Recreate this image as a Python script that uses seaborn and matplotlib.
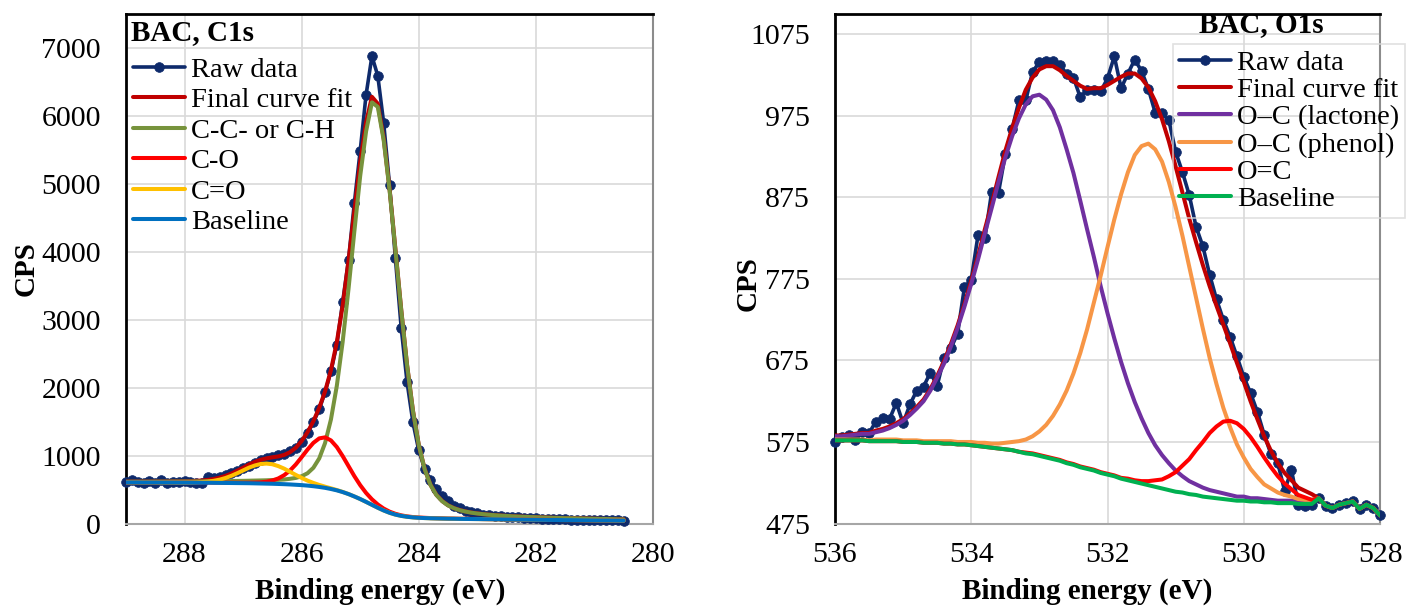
import numpy as np
import matplotlib
matplotlib.use("Agg")
import matplotlib.pyplot as plt
from matplotlib.ticker import MultipleLocator, FixedLocator
import seaborn as sns

# ---------------- C1s data (binding energy 289.0 -> 280.5 eV, 0.1 eV step) ----------------
energy_c1s = np.round(np.linspace(289.0, 280.5, 86), 1)

raw_c1s = [612, 638, 612, 595, 630, 602, 633, 596, 610, 614,
           625, 608, 598, 600, 688, 665, 690, 712, 745, 768,
           812, 848, 890, 935, 960, 985, 1005, 1030, 1060, 1110,
           1200, 1330, 1490, 1680, 1935, 2240, 2630, 3260, 3880, 4720,
           5490, 6310, 6880, 6590, 5900, 4990, 3910, 2880, 2080, 1490,
           1075, 805, 640, 505, 410, 330, 262, 222, 188, 165,
           148, 128, 118, 108, 104, 97, 92, 90, 85, 80,
           76, 72, 70, 66, 64, 60, 58, 56, 58, 52,
           50, 52, 48, 46, 47, 44]

fit_c1s = [616, 617, 617, 617, 617, 618, 618, 618, 620, 620,
           622, 623, 628, 633, 642, 656, 675, 701, 735, 777,
           821, 867, 907, 938, 959, 975, 987, 1009, 1049, 1115,
           1214, 1343, 1506, 1703, 1945, 2257, 2668, 3205, 3866, 4601,
           5324, 5904, 6281, 6180, 5674, 4935, 4047, 3150, 2335, 1665,
           1158, 804, 570, 423, 331, 268, 227, 198, 177, 161,
           149, 138, 130, 123, 117, 112, 107, 103, 99, 96,
           93, 90, 87, 84, 82, 79, 78, 76, 74, 72,
           70, 68, 67, 65, 63, 61]

cc_c1s = [615, 616, 616, 616, 616, 617, 617, 617, 618, 618,
          619, 619, 620, 620, 622, 623, 623, 624, 625, 627,
          628, 630, 632, 634, 636, 640, 643, 648, 658, 671,
          696, 740, 820, 958, 1185, 1532, 2025, 2673, 3453, 4302,
          5120, 5772, 6200, 6132, 5646, 4918, 4035, 3142, 2329, 1660,
          1154, 800, 567, 420, 328, 266, 225, 196, 175, 159,
          147, 137, 129, 122, 116, 111, 106, 102, 98, 95,
          92, 89, 86, 83, 81, 78, 77, 75, 73, 71,
          69, 67, 66, 64, 62, 60]

co_c1s = [606, 606, 606, 605, 605, 605, 604, 604, 605, 604,
          604, 603, 604, 603, 603, 602, 602, 601, 600, 600,
          600, 601, 603, 606, 615, 633, 663, 711, 779, 869,
          977, 1088, 1187, 1253, 1268, 1223, 1126, 993, 845, 697,
          564, 450, 356, 280, 220, 175, 143, 120, 105, 95,
          88, 84, 80, 78, 76, 73, 72, 70, 69, 68,
          67, 65, 64, 63, 62, 61, 60, 59, 58, 57,
          56, 55, 54, 53, 52, 51, 51, 50, 49, 48,
          47, 46, 46, 45, 44, 43]

ceo_c1s = [605, 605, 605, 604, 604, 604, 603, 603, 603, 602,
           603, 603, 606, 610, 617, 629, 646, 670, 702, 740,
           781, 822, 854, 876, 882, 872, 845, 808, 762, 715,
           671, 631, 597, 568, 542, 518, 493, 465, 434, 398,
           360, 318, 275, 232, 192, 158, 131, 112, 99, 90,
           84, 80, 77, 75, 73, 71, 70, 68, 67, 66,
           65, 64, 63, 62, 61, 60, 59, 58, 57, 56,
           55, 54, 53, 52, 51, 50, 50, 49, 48, 47,
           46, 45, 45, 44, 43, 42]

base_c1s = [605, 605, 605, 604, 604, 604, 603, 603, 603, 602,
            602, 601, 601, 600, 600, 599, 598, 597, 596, 595,
            594, 593, 591, 589, 587, 585, 582, 579, 575, 570,
            565, 558, 549, 538, 525, 508, 488, 463, 433, 398,
            360, 318, 275, 232, 192, 158, 131, 112, 99, 90,
            84, 80, 77, 75, 73, 71, 70, 68, 67, 66,
            65, 64, 63, 62, 61, 60, 59, 58, 57, 56,
            55, 54, 53, 52, 51, 50, 50, 49, 48, 47,
            46, 45, 45, 44, 43, 42]

# ---------------- O1s data (binding energy 536.0 -> 528.0 eV, 0.1 eV step) ----------------
energy_o1s = np.round(np.linspace(536.0, 528.0, 81), 1)

raw_o1s = [575, 581, 584, 578, 587, 586, 600, 604, 603, 623,
           598, 621, 638, 643, 660, 644, 678, 690, 708, 765,
           774, 829, 825, 882, 881, 928, 959, 994, 994, 1029,
           1041, 1042, 1042, 1037, 1027, 1022, 998, 1007, 1007, 1005,
           1021, 1048, 1009, 1027, 1044, 1030, 1008, 979, 978, 970,
           931, 906, 878, 839, 815, 780, 750, 725, 704, 680,
           655, 635, 612, 584, 560, 549, 515, 541, 498, 497,
           498, 506, 497, 494, 498, 500, 502, 493, 498, 494,
           485]

fit_o1s = [583, 583, 584, 585, 586, 586, 589, 591, 594, 598,
           603, 610, 618, 627, 640, 656, 674, 695, 718, 744,
           773, 803, 836, 867, 900, 932, 960, 985, 1007, 1022,
           1032, 1036, 1036, 1031, 1024, 1018, 1012, 1008, 1009, 1009,
           1013, 1018, 1023, 1027, 1027, 1021, 1010, 993, 971, 944,
           913, 881, 849, 820, 792, 766, 742, 719, 696, 672,
           649, 625, 603, 582, 564, 549, 537, 528, 519, 515,
           511, 506, 497, 494, 498, 500, 502, 493, 498, 494,
           485]

lac_o1s = [582, 582, 583, 584, 585, 585, 587, 589, 592, 596,
           601, 608, 616, 625, 638, 654, 671, 692, 715, 741,
           769, 799, 831, 862, 894, 924, 950, 972, 989, 999,
           1001, 995, 982, 961, 934, 905, 871, 836, 802, 766,
           733, 702, 673, 647, 624, 604, 586, 571, 559, 549,
           540, 533, 527, 523, 519, 516, 514, 512, 510, 508,
           508, 506, 506, 505, 504, 503, 503, 503, 502, 502,
           501, 506, 497, 494, 498, 500, 502, 493, 498, 494,
           485]

phe_o1s = [578, 578, 578, 578, 578, 577, 578, 578, 578, 578,
           577, 577, 577, 576, 576, 576, 576, 576, 575, 575,
           575, 574, 574, 573, 573, 574, 575, 576, 578, 582,
           588, 596, 607, 621, 638, 659, 684, 713, 746, 779,
           814, 848, 879, 906, 927, 938, 941, 934, 919, 894,
           863, 828, 790, 752, 714, 678, 646, 617, 593, 572,
           556, 542, 532, 523, 518, 513, 510, 508, 505, 504,
           504, 506, 497, 494, 498, 500, 502, 493, 498, 494,
           485]

oc_o1s = [577, 577, 577, 577, 577, 576, 576, 576, 576, 576,
          575, 575, 575, 574, 574, 574, 573, 573, 572, 572,
          571, 570, 569, 568, 567, 566, 565, 563, 562, 561,
          559, 557, 555, 553, 550, 548, 545, 543, 541, 538,
          536, 534, 531, 530, 528, 527, 527, 528, 529, 533,
          538, 546, 554, 565, 575, 586, 594, 600, 601, 598,
          591, 581, 569, 556, 544, 533, 524, 517, 510, 507,
          504, 506, 497, 494, 498, 500, 502, 493, 498, 494,
          485]

base_o1s = [577, 577, 577, 577, 577, 576, 576, 576, 576, 576,
            575, 575, 575, 574, 574, 574, 573, 573, 572, 572,
            571, 570, 569, 568, 567, 566, 565, 563, 561, 560,
            558, 556, 554, 552, 549, 547, 544, 542, 540, 537,
            535, 533, 530, 528, 526, 524, 522, 520, 518, 516,
            514, 513, 511, 510, 508, 507, 506, 505, 504, 503,
            503, 502, 502, 501, 501, 500, 500, 500, 499, 499,
            499, 506, 497, 494, 498, 500, 502, 493, 498, 494,
            485]

labels_c1s = ["Raw data", "Final curve fit", "C-C- or C-H", "C-O", "C=O", "Baseline"]
labels_o1s = ["Raw data", "Final curve fit", "O\u2013C (lactone)", "O\u2013C (phenol)", "O=C", "Baseline"]
colors_c1s = ["#0E2A6B", "#C00000", "#77933C", "#FF0000", "#FFC000", "#0070C0"]
colors_o1s = ["#0E2A6B", "#C00000", "#7030A0", "#F79646", "#FF0000", "#00B050"]

# ---------------- style ----------------
sns.set_theme(style="white")
plt.rcParams["font.family"] = ["Liberation Serif", "DejaVu Serif"]
plt.rcParams["axes.unicode_minus"] = False
for key in ("text.color", "axes.labelcolor", "xtick.color", "ytick.color"):
    plt.rcParams[key] = "black"

W, H = 1411, 612
fig = plt.figure(figsize=(W / 100, H / 100), dpi=100)
top_px, bot_px = 14, 523.5
ax1 = fig.add_axes([126 / W, (H - bot_px) / H, 527 / W, (bot_px - top_px) / H])
ax2 = fig.add_axes([835 / W, (H - bot_px) / H, 545 / W, (bot_px - top_px) / H])


def draw_panel(ax, energy, series, labels, colors):
    for i, (vals, lab, col) in enumerate(zip(series, labels, colors)):
        if i == 0:
            sns.lineplot(x=energy, y=vals, ax=ax, color=col, lw=2.6, marker="o",
                         markersize=7, markeredgecolor=col, markeredgewidth=0.5,
                         label=lab, estimator=None, sort=False, clip_on=False, zorder=3)
        else:
            sns.lineplot(x=energy, y=vals, ax=ax, color=col, lw=2.9, label=lab,
                         estimator=None, sort=False, zorder=3 + i)


draw_panel(ax1, energy_c1s, [raw_c1s, fit_c1s, cc_c1s, co_c1s, ceo_c1s, base_c1s],
           labels_c1s, colors_c1s)
draw_panel(ax2, energy_o1s, [raw_o1s, fit_o1s, lac_o1s, phe_o1s, oc_o1s, base_o1s],
           labels_o1s, colors_o1s)

# axes limits and ticks
ax1.set_xlim(289, 280)
ax1.set_ylim(0, 7500)
ax1.yaxis.set_major_locator(FixedLocator(np.arange(0, 7001, 1000)))
ax1.xaxis.set_major_locator(FixedLocator([288, 286, 284, 282, 280]))

ax2.set_xlim(536, 528)
ax2.set_ylim(475, 1100)
ax2.yaxis.set_major_locator(FixedLocator(np.arange(475, 1076, 100)))
ax2.xaxis.set_major_locator(FixedLocator([536, 534, 532, 530, 528]))

for ax in (ax1, ax2):
    ax.xaxis.set_minor_locator(MultipleLocator(0.4))
    ax.grid(True, which="major", color="#D9D9D9", lw=1.2)
    ax.set_axisbelow(True)
    ax.tick_params(axis="y", length=0, pad=18, labelsize=21.5, labelcolor="black")
    ax.tick_params(axis="x", which="both", direction="out", length=5, width=1.3,
                   color="#A6A6A6", pad=8, labelsize=21.5, labelcolor="black")
    ax.spines["left"].set_color("black")
    ax.spines["left"].set_linewidth(2.0)
    ax.spines["top"].set_color("black")
    ax.spines["top"].set_linewidth(2.0)
    ax.spines["right"].set_color("#8C8C8C")
    ax.spines["right"].set_linewidth(1.5)
    ax.spines["bottom"].set_color("#A6A6A6")
    ax.spines["bottom"].set_linewidth(1.5)
    for s in ax.spines.values():
        s.set_visible(True)
    ax.set_xlabel("Binding energy (eV)", fontsize=21, fontweight="bold", color="black")
    ax.set_ylabel("CPS", fontsize=21, fontweight="bold", color="black")

ax1.xaxis.set_label_coords((380 - 126) / 527, (bot_px - 578) / (bot_px - top_px))
ax2.xaxis.set_label_coords((1087 - 835) / 545, (bot_px - 578) / (bot_px - top_px))
ax1.yaxis.set_label_coords((40 - 126) / 527, 0.5)
ax2.yaxis.set_label_coords((762 - 835) / 545, 0.47)

# panel titles
ax1.text(131, H - 33, "BAC, C1s", transform=None, fontsize=21, fontweight="bold",
         ha="left", va="center", color="black")
fig.text(1261 / W, 1 - 25 / H, "BAC, O1s", fontsize=21, fontweight="bold",
         ha="center", va="center", color="black")

# legends
h1, l1 = ax1.get_legend_handles_labels()
leg1 = ax1.legend(h1, l1, loc="upper left", bbox_to_anchor=(133 / W, 1 - 57 / H),
                  bbox_transform=fig.transFigure, frameon=False, fontsize=20.5,
                  handlelength=1.82, handletextpad=0.22, labelspacing=0.16,
                  borderpad=0, borderaxespad=0, numpoints=1)

h2, l2 = ax2.get_legend_handles_labels()
leg2 = ax2.legend(h2, l2, loc="upper left", bbox_to_anchor=(1173 / W, 1 - 44 / H),
                  bbox_transform=fig.transFigure, frameon=True, fancybox=False,
                  fontsize=20.5, handlelength=1.85, handletextpad=0.2, labelspacing=0.05,
                  borderpad=0.2, borderaxespad=0, numpoints=1)
leg2.get_frame().set_facecolor("none")
leg2.get_frame().set_edgecolor("#D9D9D9")
leg2.get_frame().set_linewidth(1.2)
for t in leg1.get_texts() + leg2.get_texts():
    t.set_color("black")

fig.savefig("out.png", dpi=100)
